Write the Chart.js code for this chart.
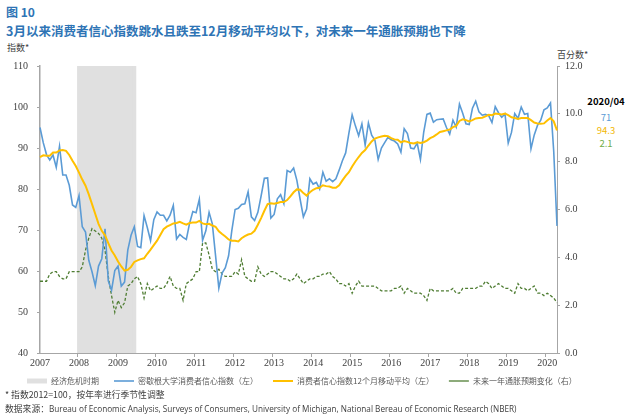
<!DOCTYPE html>
<html>
<head>
<meta charset="utf-8">
<script src="https://cdn.jsdelivr.net/npm/chart.js@4.4.1/dist/chart.umd.min.js"></script>
<style>
  body { margin: 0; width: 640px; height: 417px; position: relative; background: #fff; overflow: hidden;
         font-family: "Noto Sans CJK SC", "Noto Sans", sans-serif; }
  .t { position: absolute; white-space: nowrap; }
  #fig { left: 6px; top: 3px; font-size: 12px; font-weight: bold; color: #2e74b5; }
  #title { left: 6px; top: 21px; font-size: 12.5px; font-weight: bold; color: #2e74b5; }
  #yl { left: 7px; top: 41px; font-size: 9px; color: #404040; }
  #yr { left: 557px; top: 48px; font-size: 9px; color: #404040; }
  #last { left: 580px; top: 95px; width: 52px; text-align: center; font-size: 9.5px; line-height: 13px; }
  #note { left: 5px; top: 388px; font-size: 8.8px; color: #404040; }
  #src { left: 5px; top: 402px; font-size: 8.8px; color: #404040; }
  #src span { font-family: "Open Sans", sans-serif; font-size: 8.2px; }
  #wrap { position: absolute; left: 0; top: 40px; width: 640px; height: 355px; }
</style>
</head>
<body>
<div class="t" id="fig">图 10</div>
<div class="t" id="title">3月以来消费者信心指数跳水且跌至12月移动平均以下，对未来一年通胀预期也下降</div>
<div class="t" id="yl">指数*</div>
<div class="t" id="yr">百分数*</div>
<div class="t" id="last">
  <div style="font-weight:bold;color:#000;margin-bottom:3px">2020/04</div>
  <div id="v1" style="color:#5b9bd5"></div>
  <div id="v2" style="color:#f2b705"></div>
  <div id="v3" style="color:#70ad47"></div>
</div>
<div id="wrap"><canvas id="c"></canvas></div>
<div class="t" id="note">* 指数2012=100，按年率进行季节性调整</div>
<div class="t" id="src">数据来源：<span>Bureau of Economic Analysis, Surveys of Consumers, University of Michigan, National Bereau of Economic Research (NBER)</span></div>

<script>
// monthly, 2007/01 - 2020/04
const years = [2007, 2008, 2009, 2010, 2011, 2012, 2013, 2014, 2015, 2016, 2017, 2018, 2019, 2020];
const lastMonth = 4;

const sentiment = [
  95.0, 91.3, 88.4, 87.1, 88.3, 85.3, 90.4, 83.4, 83.4, 80.9, 76.1, 75.5,
  78.4, 70.8, 69.5, 62.6, 59.8, 56.4, 61.2, 63.0, 70.3, 57.6, 55.3, 60.1,
  61.2, 56.3, 57.3, 65.1, 68.7, 70.8, 66.0, 65.7, 73.5, 70.6, 67.4, 72.5,
  74.4, 73.6, 73.6, 72.2, 73.6, 76.0, 67.8, 68.9, 68.2, 67.7, 71.6, 74.5,
  74.2, 77.5, 67.5, 69.8, 74.3, 71.5, 63.7, 55.8, 59.5, 60.8, 63.7, 69.9,
  75.0, 75.3, 76.2, 76.4, 79.3, 73.2, 72.3, 74.3, 78.3, 82.6, 82.7, 72.9,
  73.8, 77.6, 78.6, 76.4, 84.5, 84.1, 85.1, 82.1, 77.5, 73.2, 75.1, 82.5,
  81.2, 81.6, 80.0, 84.1, 81.9, 82.5, 81.8, 82.5, 84.6, 86.9, 88.8, 93.6,
  98.1, 95.4, 93.0, 95.9, 90.7, 96.1, 93.1, 91.9, 87.2, 90.0, 91.3, 92.6,
  92.0, 91.7, 91.0, 89.0, 94.7, 93.5, 90.0, 89.8, 91.2, 87.2, 93.8, 98.2,
  98.5, 96.3, 96.9, 97.0, 97.1, 95.0, 93.4, 96.8, 95.1, 100.7, 98.5, 95.9,
  95.7, 99.7, 101.4, 98.8, 98.0, 98.2, 97.9, 96.2, 100.1, 98.6, 97.5, 98.3,
  91.2, 93.8, 98.4, 97.2, 100.0, 98.2, 98.4, 89.8, 93.2, 95.5, 96.8, 99.3,
  99.8, 101.0, 89.1, 71.0
];

const movingAvg = [
  87.8, 88.2, 88.1, 88.1, 88.9, 88.9, 89.4, 89.5, 89.3, 88.3, 86.9, 85.6,
  84.0, 82.3, 80.8, 78.7, 76.3, 73.9, 71.5, 69.8, 68.7, 66.8, 65.0, 63.8,
  62.3, 61.1, 60.1, 60.3, 61.0, 62.2, 62.6, 62.9, 63.1, 64.2, 65.2, 66.3,
  67.4, 68.8, 70.2, 70.8, 71.2, 71.6, 71.7, 72.0, 71.6, 71.3, 71.7, 71.8,
  71.8, 72.2, 71.6, 71.4, 71.5, 71.1, 70.8, 69.7, 69.0, 68.4, 67.7, 67.4,
  67.4, 67.2, 68.0, 68.5, 68.9, 69.1, 69.8, 71.3, 72.9, 74.7, 76.3, 76.5,
  76.4, 76.6, 76.8, 76.8, 77.3, 78.2, 79.2, 79.9, 79.8, 79.0, 78.4, 79.2,
  79.8, 80.2, 80.3, 80.9, 80.7, 80.6, 80.3, 80.3, 80.9, 82.1, 83.2, 84.1,
  85.5, 86.7, 87.8, 88.8, 89.5, 90.6, 91.6, 92.3, 92.6, 92.8, 93.0, 92.9,
  92.4, 92.1, 92.0, 91.4, 91.7, 91.5, 91.2, 91.1, 91.4, 91.2, 91.4, 91.8,
  92.4, 92.8, 93.3, 93.9, 94.1, 94.3, 94.5, 95.1, 95.4, 96.6, 97.0, 96.8,
  96.5, 96.8, 97.2, 97.3, 97.4, 97.7, 98.1, 98.0, 98.4, 98.3, 98.2, 98.4,
  98.0, 97.5, 97.3, 97.1, 97.3, 97.3, 97.3, 96.8, 96.2, 96.0, 95.9, 96.0,
  96.7, 97.3, 96.5, 94.3
];

const inflationExp = [
  3.0, 3.0, 3.0, 3.3, 3.4, 3.4, 3.2, 3.1, 3.1, 3.4, 3.4, 3.4,
  3.4, 3.6, 4.3, 4.8, 5.2, 5.1, 5.0, 4.8, 4.3, 3.2, 2.4, 1.7,
  2.2, 1.9, 2.1, 2.8, 2.9, 3.1, 3.2, 2.9, 2.3, 2.9, 2.6, 2.7,
  2.8, 2.7, 2.7, 2.9, 3.2, 2.8, 2.7, 2.7, 2.2, 2.9, 3.0, 3.1,
  3.4, 3.4, 4.6, 4.6, 4.1, 3.5, 3.4, 3.5, 3.3, 3.2, 3.2, 3.2,
  3.4, 3.3, 3.9, 3.2, 3.1, 3.0, 3.0, 3.6, 3.3, 3.2, 3.3, 3.4,
  3.4, 3.3, 3.2, 3.1, 3.1, 3.0, 3.1, 3.3, 3.1, 2.9, 3.0, 3.1,
  3.1, 3.2, 3.2, 3.3, 3.3, 3.4, 3.2, 3.1, 2.9, 2.9, 2.8, 2.9,
  2.5, 2.8, 3.0, 2.8, 2.8, 2.8, 2.8, 2.8, 2.7, 2.6, 2.6, 2.6,
  2.6, 2.7, 2.7, 2.8, 2.5, 2.7, 2.6, 2.5, 2.5, 2.5, 2.4, 2.2,
  2.7, 2.6, 2.6, 2.6, 2.6, 2.6, 2.6, 2.7, 2.5, 2.5, 2.7, 2.7,
  2.7, 2.7, 2.7, 2.8, 2.8, 3.0, 2.9, 2.7, 2.8, 2.9, 2.8, 2.7,
  2.7, 2.6, 2.5, 2.9, 2.7, 2.7, 2.6, 2.7, 2.8, 2.5, 2.5, 2.4,
  2.5, 2.4, 2.3, 2.1
];

// NBER recession shading
const recessionFrom = '2008/01';
const recessionTo = '2009/06';

const labels = [];
years.forEach(y => {
  for (let m = 1; m <= 12; m++) {
    if (y === years[years.length - 1] && m > lastMonth) break;
    labels.push(y + '/' + String(m).padStart(2, '0'));
  }
});
const i0 = labels.indexOf(recessionFrom), i1 = labels.indexOf(recessionTo);
const recession = labels.map((l, i) => (i >= i0 && i <= i1) ? 110 : null);

const n = labels.length - 1;
document.getElementById('v1').textContent = sentiment[n];
document.getElementById('v2').textContent = movingAvg[n];
document.getElementById('v3').textContent = inflationExp[n];

const tickFont = { family: '"Liberation Serif", serif', size: 10 };
const gap = '\u2003';

// nudge the legend row to the right, like the original
const legendShift = {
  id: 'legendShift',
  afterLayout(chart) { chart.legend.left += 20; }
};

new Chart(document.getElementById('c'), {
  type: 'line',
  data: {
    labels: labels,
    datasets: [
      { type: 'bar', label: '经济危机时期' + gap, data: recession, yAxisID: 'y', backgroundColor: '#e0e0e0',
        borderWidth: 0, barPercentage: 1, categoryPercentage: 1, order: 10, pointStyle: 'rect' },
      { label: '密歇根大学消费者信心指数（左）' + gap, data: sentiment, yAxisID: 'y', borderColor: '#5b9bd5',
        backgroundColor: '#5b9bd5', borderWidth: 1.6, pointRadius: 0, order: 2, pointStyle: 'line' },
      { label: '消费者信心指数12个月移动平均（左）' + gap, data: movingAvg, yAxisID: 'y', borderColor: '#ffc000',
        backgroundColor: '#ffc000', borderWidth: 2, pointRadius: 0, order: 1, pointStyle: 'line' },
      { label: '未来一年通胀预期变化（右）', data: inflationExp, yAxisID: 'y1', borderColor: '#4f7d33',
        backgroundColor: '#4f7d33', borderWidth: 1.3, borderDash: [3, 2], pointRadius: 0, order: 3, pointStyle: 'line' }
    ]
  },
  options: {
    responsive: true,
    maintainAspectRatio: false,
    animation: false,
    layout: { padding: { top: 26, left: 0, right: 0, bottom: 0 } },
    plugins: {
      tooltip: { enabled: false },
      legend: {
        position: 'bottom',
        align: 'start',
        labels: {
          usePointStyle: true,
          pointStyleWidth: 20,
          boxHeight: 5,
          padding: 7,
          color: '#595959',
          font: { family: '"Noto Sans CJK SC", sans-serif', size: 8 },
          sort: (a, b) => a.datasetIndex - b.datasetIndex
        }
      }
    },
    scales: {
      x: {
        offset: false,
        afterFit: s => { s.height = 17; },
        grid: { drawOnChartArea: false, tickLength: 4,
                color: c => (c.index % 12 === 0) ? '#a6a6a6' : 'transparent' },
        border: { color: '#a6a6a6' },
        ticks: { autoSkip: false, maxRotation: 0, padding: 0, color: '#404040', font: tickFont,
                 callback: (v, i) => (i % 12 === 0) ? labels[i].slice(0, 4) : '' }
      },
      y: {
        position: 'left', min: 40, max: 110,
        afterFit: s => { s.width = 40; },
        grid: { drawOnChartArea: false, tickLength: 3, color: '#a6a6a6' },
        border: { color: '#a6a6a6', width: 1.5 },
        ticks: { stepSize: 10, padding: 9, color: '#404040', font: tickFont }
      },
      y1: {
        position: 'right', min: 0, max: 12,
        afterFit: s => { s.width = 83; },
        grid: { drawOnChartArea: false, tickLength: 3, color: '#a6a6a6' },
        border: { color: '#a6a6a6' },
        ticks: { stepSize: 2, padding: 5, color: '#404040', font: tickFont,
                 callback: v => v.toFixed(1) }
      }
    }
  },
  plugins: [legendShift]
});
</script>
</body>
</html>
